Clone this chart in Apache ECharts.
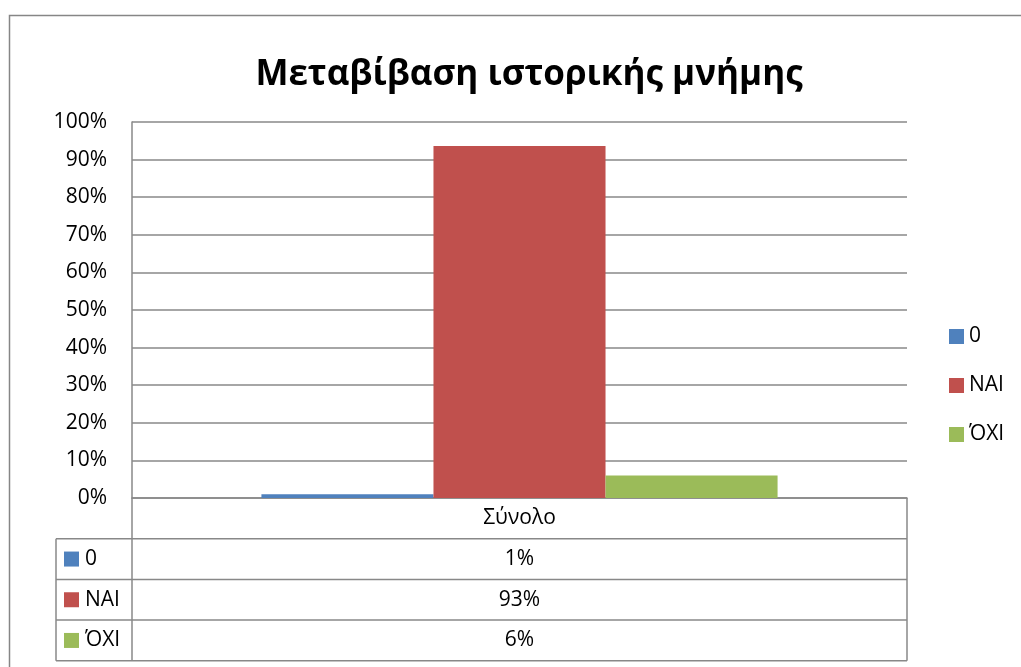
<!DOCTYPE html>
<html>
<head>
<meta charset="utf-8">
<script src="https://cdn.jsdelivr.net/npm/echarts@6/dist/echarts.min.js"></script>
<style>
  html, body { margin: 0; padding: 0; background: #fff; }
  #chart { width: 1021px; height: 667px; }
</style>
</head>
<body>
<div id="chart"></div>
<script>
  // data
  var titleText = 'Μεταβίβαση ιστορικής μνήμης';
  var categories = ['Σύνολο'];
  var seriesNames = ['0', 'ΝΑΙ', 'ΌΧΙ'];
  var seriesValues = [1.0, 93.6, 6.0];
  var tableLabels = ['1%', '93%', '6%'];
  var seriesColors = ['#4F81BD', '#C0504D', '#9BBB59'];

  var font = '"Open Sans", "Noto Sans", sans-serif';
  var lineColor = '#888888';
  var fs = 21;

  // plot area (pixels)
  var gLeft = 132, gRight = 907, gTop = 122, gBottom = 498;
  var tableLeft = 56, rowH = 40.7;

  var chart = echarts.init(document.getElementById('chart'));

  var series = seriesNames.map(function (name, i) {
    return {
      name: name,
      type: 'bar',
      data: [seriesValues[i]],
      itemStyle: { color: seriesColors[i] },
      barGap: '0%',
      barCategoryGap: '33.4%'
    };
  });

  // data table under the axis
  var graphics = [];
  function hline(x1, x2, y) {
    graphics.push({ type: 'line', shape: { x1: x1, y1: y, x2: x2, y2: y }, style: { stroke: lineColor, lineWidth: 1.5 }, silent: true });
  }
  function vline(x, y1, y2) {
    graphics.push({ type: 'line', shape: { x1: x, y1: y1, x2: x, y2: y2 }, style: { stroke: lineColor, lineWidth: 1.5 }, silent: true });
  }
  var catBottom = gBottom + rowH;
  var tableBottom = catBottom + rowH * seriesNames.length;
  vline(gLeft, gBottom, tableBottom);
  vline(gRight, gBottom, tableBottom);
  vline(tableLeft, catBottom, tableBottom);
  for (var r = 0; r <= seriesNames.length; r++) {
    hline(tableLeft, gRight, catBottom + r * rowH);
  }
  seriesNames.forEach(function (name, i) {
    var cy = catBottom + rowH * i + rowH / 2;
    graphics.push({ type: 'rect', shape: { x: 64, y: cy - 7.5, width: 15, height: 15 }, style: { fill: seriesColors[i] }, silent: true });
    graphics.push({ type: 'text', x: 85, y: cy, style: { text: name, font: fs + 'px ' + font, fill: '#000', verticalAlign: 'middle' }, silent: true });
    graphics.push({ type: 'text', x: (gLeft + gRight) / 2, y: cy, style: { text: tableLabels[i], font: fs + 'px ' + font, fill: '#000', align: 'center', verticalAlign: 'middle' }, silent: true });
  });
  // chart area border
  graphics.push({ type: 'rect', shape: { x: 9.5, y: 15.5, width: 1030, height: 700 }, style: { fill: 'none', stroke: '#868686', lineWidth: 1.5 }, silent: true, z: 100 });

  var option = {
    backgroundColor: '#fff',
    animation: false,
    title: {
      text: titleText,
      left: 524,
      top: 53,
      textAlign: 'center',
      textStyle: { fontFamily: font, fontWeight: 'bold', fontSize: 35, color: '#000' }
    },
    legend: {
      orient: 'vertical',
      left: 949,
      top: 326,
      padding: 0,
      itemWidth: 15,
      itemHeight: 15,
      itemGap: 28,
      icon: 'rect',
      data: seriesNames,
      textStyle: { fontFamily: font, fontSize: fs, color: '#000' }
    },
    grid: {
      left: gLeft,
      right: 1021 - gRight,
      top: gTop,
      bottom: 667 - gBottom,
      containLabel: false
    },
    xAxis: {
      type: 'category',
      data: categories,
      axisLine: { lineStyle: { color: lineColor, width: 1.5 } },
      axisTick: { show: false },
      axisLabel: { margin: 10, fontFamily: font, fontSize: fs, color: '#000' }
    },
    yAxis: {
      type: 'value',
      min: 0,
      max: 100,
      interval: 10,
      axisLine: { show: true, lineStyle: { color: lineColor, width: 1.5 } },
      axisTick: { show: false },
      splitLine: { lineStyle: { color: lineColor, width: 1.5 } },
      axisLabel: { margin: 25, fontFamily: font, fontSize: fs, color: '#000', formatter: '{value}%' }
    },
    series: series,
    graphic: graphics
  };

  chart.setOption(option);
</script>
</body>
</html>
